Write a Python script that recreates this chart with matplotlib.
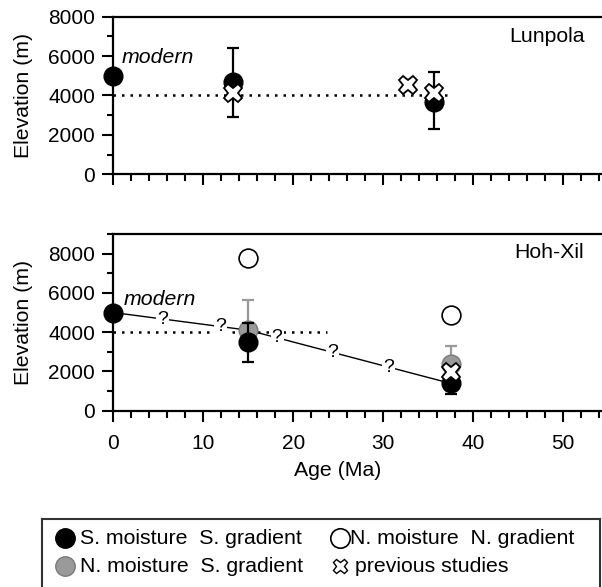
import matplotlib
matplotlib.use('Agg')
import matplotlib.pyplot as plt
import numpy as np
from matplotlib.ticker import MultipleLocator

plt.rcParams['font.family'] = ['Liberation Sans', 'DejaVu Sans']

# modern value and 4000 m reference
modern_age = 0
modern_elev = 5000
ref_elev = 4000

# Lunpola
lp_age = [13.3, 35.6]
lp_elev = [4700, 3690]
lp_lo = [2930, 2290]
lp_hi = [6400, 5210]
lp_prev_age = [13.3, 32.7, 35.6]
lp_prev_elev = [4110, 4530, 4110]
lp_ref_end = 37.6

# Hoh-Xil
hx_age = [15.0, 37.5]
hx_s_elev = [3500, 1390]     # S. moisture S. gradient
hx_s_lo = [2490, 850]
hx_s_hi = [4470, 1950]
hx_ns_elev = [4100, 2400]    # N. moisture S. gradient
hx_ns_hi = [5650, 3290]
hx_n_elev = [7800, 4870]     # N. moisture N. gradient
hx_prev_age = [37.5]
hx_prev_elev = [1980]
hx_ref_end = 23.8
hx_path_age = [0, 15.0, 37.5]
hx_path_elev = [5000, 4100, 1390]
hx_q_age = [5.5, 11.9, 18.2, 24.4, 30.6]

FS = 15.3
TFS = 15
GRAY = '#9a9a9a'

fig = plt.figure(figsize=(6.02, 5.87), dpi=100)
ax1 = fig.add_axes([0.1882, 0.7031, 0.8118, 0.2685])
ax2 = fig.add_axes([0.1882, 0.3003, 0.8118, 0.3011])

for ax in (ax1, ax2):
    ax.set_xlim(0, 54.3)
    ax.spines['right'].set_visible(False)
    for s in ('left', 'top', 'bottom'):
        ax.spines[s].set_linewidth(1.6)
    ax.xaxis.set_major_locator(MultipleLocator(10))
    ax.xaxis.set_minor_locator(MultipleLocator(2))
    ax.yaxis.set_major_locator(MultipleLocator(2000))
    ax.yaxis.set_minor_locator(MultipleLocator(1000))
    ax.tick_params(which='both', direction='out', width=1.5, labelsize=TFS)
    ax.tick_params(axis='x', which='major', length=8, pad=9)
    ax.tick_params(axis='x', which='minor', length=5)
    ax.tick_params(axis='y', which='major', length=8, pad=5)
    ax.tick_params(axis='y', which='minor', length=4)
    ax.set_ylabel('Elevation (m)', fontsize=FS)
    ax.yaxis.set_label_coords(-0.165, 0.5)

ax1.set_ylim(0, 8000)
ax2.set_ylim(0, 9000)
ax1.tick_params(axis='x', labelbottom=False)

# ---- Lunpola
ax1.plot([0, lp_ref_end], [ref_elev, ref_elev], color='black', lw=1.8,
         linestyle=(0, (1, 2.4)), zorder=1)
ax1.plot([modern_age], [modern_elev], 'o', color='black', ms=13.5, zorder=3,
         clip_on=False)
ax1.errorbar(lp_age, lp_elev,
             yerr=[np.subtract(lp_elev, lp_lo), np.subtract(lp_hi, lp_elev)],
             fmt='o', color='black', ms=13.5, elinewidth=1.6, capsize=4.3,
             capthick=1.6, zorder=3)
ax1.plot(lp_prev_age, lp_prev_elev, 'X', mfc='white', mec='black', mew=1.3,
         ms=13, zorder=5)
ax1.text(0.9, 5950, 'modern', style='italic', fontsize=FS, va='center')
ax1.text(52.4, 7000, 'Lunpola', fontsize=FS, ha='right', va='center')

# ---- Hoh-Xil
ax2.plot([0, hx_ref_end], [ref_elev, ref_elev], color='black', lw=1.8,
         linestyle=(0, (1, 2.4)), zorder=1)
ax2.plot(hx_path_age, hx_path_elev, color='black', lw=1.0, zorder=1.5)
for qa in hx_q_age:
    ax2.text(qa, np.interp(qa, hx_path_age, hx_path_elev), '?', fontsize=14,
             ha='center', va='center', zorder=1.8,
             bbox=dict(boxstyle='square,pad=0.05', fc='white', ec='none'))
ax2.errorbar(hx_age, hx_ns_elev,
             yerr=[np.zeros(len(hx_age)), np.subtract(hx_ns_hi, hx_ns_elev)],
             fmt='o', color=GRAY, mec='#7a7a7a', ms=13.5, elinewidth=1.6,
             capsize=4.3, capthick=1.6, zorder=3)
ax2.errorbar(hx_age, hx_s_elev,
             yerr=[np.subtract(hx_s_elev, hx_s_lo), np.subtract(hx_s_hi, hx_s_elev)],
             fmt='o', color='black', ms=13.5, elinewidth=1.6, capsize=4.3,
             capthick=1.6, zorder=4)
ax2.plot(hx_age, hx_n_elev, 'o', mfc='white', mec='black', mew=1.2, ms=13.5,
         zorder=4)
ax2.plot([modern_age], [modern_elev], 'o', color='black', ms=13.5, zorder=4,
         clip_on=False)
ax2.plot(hx_prev_age, hx_prev_elev, 'X', mfc='white', mec='black', mew=1.3,
         ms=13, zorder=5)
ax2.text(1.1, 5670, 'modern', style='italic', fontsize=FS, va='center')
ax2.text(52.3, 8050, 'Hoh-Xil', fontsize=FS, ha='right', va='center')
ax2.set_xlabel('Age (Ma)', fontsize=FS)
ax2.xaxis.set_label_coords(0.46, -0.285)

# ---- legend box (pixel coordinates, bottom cut by figure edge)
lax = fig.add_axes([42 / 602, (587 - 660) / 587, (600 - 42) / 602, (660 - 519) / 587])
lax.set_xlim(42, 600)
lax.set_ylim(660, 519)
lax.set_xticks([])
lax.set_yticks([])
for s in lax.spines.values():
    s.set_linewidth(1.5)
    s.set_color('#333333')
lax.plot([65], [538], 'o', color='black', ms=14)
lax.plot([65], [566], 'o', color=GRAY, mec='#7a7a7a', ms=14)
lax.plot([340], [538], 'o', mfc='white', mec='black', mew=1.2, ms=14)
lax.plot([340], [566], 'X', mfc='white', mec='black', mew=1.0, ms=10.5)
lax.text(80, 538, 'S. moisture  S. gradient', fontsize=FS, va='center')
lax.text(80, 566, 'N. moisture  S. gradient', fontsize=FS, va='center')
lax.text(350, 538, 'N. moisture  N. gradient', fontsize=FS, va='center')
lax.text(355, 566, 'previous studies', fontsize=FS, va='center')

fig.savefig('out.png', dpi=100)
